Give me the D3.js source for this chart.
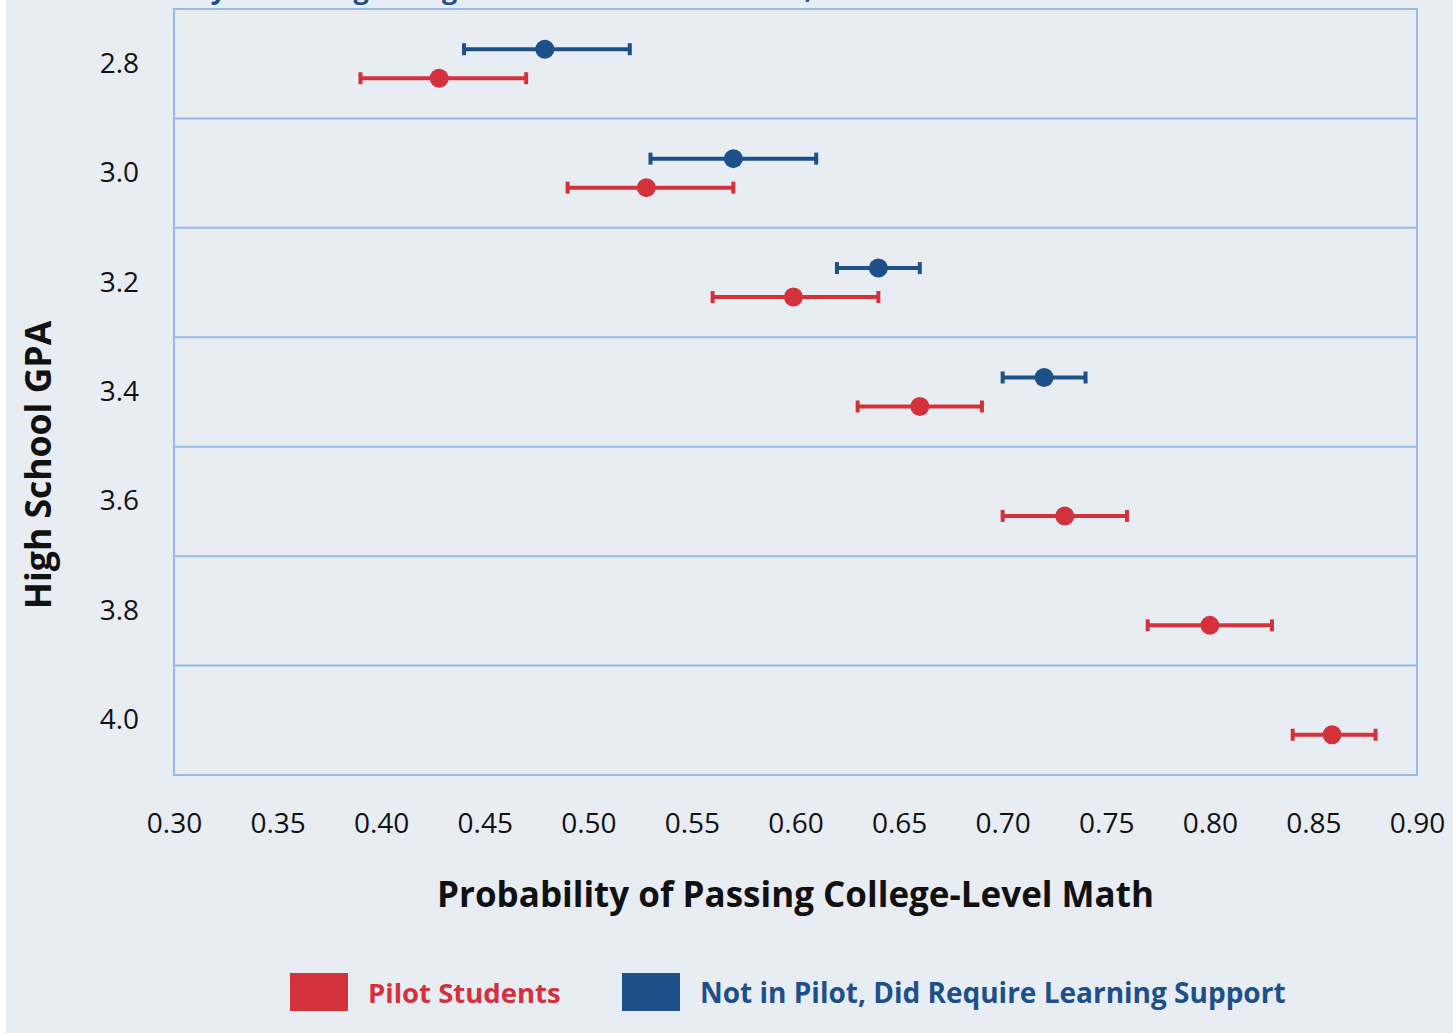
<!DOCTYPE html>
<html>
<head>
<meta charset="utf-8">
<script src="https://cdn.jsdelivr.net/npm/d3@7"></script>
<style>
  body { margin: 0; background: #fff; }
  svg { display: block; font-family: "Open Sans", "Noto Sans", sans-serif; }
</style>
</head>
<body>
<div id="chart"></div>
<script>
// GPA rows, top to bottom
var gpaLabels = ["2.8", "3.0", "3.2", "3.4", "3.6", "3.8", "4.0"];

// Pilot students: estimate with 95% interval
var pilotMean = [0.428, 0.528, 0.599, 0.660, 0.730, 0.800, 0.859];
var pilotLow  = [0.39, 0.49, 0.56, 0.63, 0.70, 0.77, 0.84];
var pilotHigh = [0.47, 0.57, 0.64, 0.69, 0.76, 0.83, 0.88];

// Not in pilot, did require learning support (only up to 3.4)
var compGpa  = ["2.8", "3.0", "3.2", "3.4"];
var compMean = [0.479, 0.570, 0.640, 0.720];
var compLow  = [0.44, 0.53, 0.62, 0.70];
var compHigh = [0.52, 0.61, 0.66, 0.74];

var xTicks = [0.30, 0.35, 0.40, 0.45, 0.50, 0.55, 0.60, 0.65, 0.70, 0.75, 0.80, 0.85, 0.90];

var seriesNames = ["Pilot Students", "Not in Pilot, Did Require Learning Support"];
var seriesColors = ["#d3313b", "#1d5089"];

var width = 1453, height = 1033;
var margin = { top: 9, right: 36, bottom: 258, left: 174 };

var svg = d3.select("#chart").append("svg")
    .attr("width", width)
    .attr("height", height);

// panel background, with thin white strip on the left
svg.append("rect")
    .attr("x", 6).attr("y", 0)
    .attr("width", width - 6).attr("height", height)
    .attr("fill", "#e8ecf3");

// title, mostly cut off above the picture (only descenders show)
svg.append("text")
    .attr("x", 78).attr("y", -1)
    .attr("font-size", 27).attr("font-weight", "bold")
    .attr("fill", "#1d5089")
    .text("Probability of Passing College-Level Math for Students, Pilot vs. Non-Pilot");

var x = d3.scaleLinear()
    .domain([0.30, 0.90])
    .range([margin.left, width - margin.right]);

var y = d3.scaleBand()
    .domain(gpaLabels)
    .range([margin.top, height - margin.bottom]);

var offset = 14.5;

// horizontal row separators
var grid = svg.append("g");
grid.selectAll("line")
    .data(gpaLabels.slice(1))
    .enter().append("line")
        .attr("x1", x.range()[0]).attr("x2", x.range()[1])
        .attr("y1", function(d) { return y(d); })
        .attr("y2", function(d) { return y(d); })
        .attr("stroke", "#93bbe6").attr("stroke-width", 2);

svg.append("rect")
    .attr("x", x.range()[0]).attr("y", y.range()[0])
    .attr("width", x.range()[1] - x.range()[0])
    .attr("height", y.range()[1] - y.range()[0])
    .attr("fill", "none")
    .attr("stroke", "#93bbe6").attr("stroke-width", 2);

// axes
var xAxis = svg.append("g")
    .attr("transform", "translate(0," + (y.range()[1] + 35) + ")")
    .call(d3.axisBottom(x).tickValues(xTicks).tickFormat(d3.format(".2f")).tickSize(0));
xAxis.select(".domain").remove();
xAxis.selectAll("text")
    .attr("font-size", 28).attr("fill", "#111")
    .attr("font-family", "\"Open Sans\", sans-serif");

var yAxis = svg.append("g")
    .attr("transform", "translate(" + (margin.left - 32) + ",0)")
    .call(d3.axisLeft(y).tickSize(0));
yAxis.select(".domain").remove();
yAxis.selectAll("text")
    .attr("font-size", 28).attr("fill", "#111")
    .attr("font-family", "\"Open Sans\", sans-serif");

// axis titles
svg.append("text")
    .attr("x", (x.range()[0] + x.range()[1]) / 2).attr("y", 907)
    .attr("text-anchor", "middle")
    .attr("font-size", 35).attr("font-weight", "bold").attr("fill", "#111")
    .text("Probability of Passing College-Level Math");

svg.append("text")
    .attr("transform", "translate(51,465) rotate(-90)")
    .attr("text-anchor", "middle")
    .attr("font-size", 35.5).attr("font-weight", "bold").attr("fill", "#111")
    .text("High School GPA");

// error bar series
function drawSeries(cats, mean, low, high, dy, color) {
    var g = svg.append("g");
    var rows = cats.map(function(c, i) {
        return { cat: c, mean: mean[i], low: low[i], high: high[i] };
    });
    var cy = function(d) { return y(d.cat) + y.bandwidth() / 2 + dy; };
    var capH = 6;

    g.selectAll(".bar").data(rows).enter().append("line")
        .attr("x1", function(d) { return x(d.low); })
        .attr("x2", function(d) { return x(d.high); })
        .attr("y1", cy).attr("y2", cy)
        .attr("stroke", color).attr("stroke-width", 4);

    g.selectAll(".capl").data(rows).enter().append("line")
        .attr("x1", function(d) { return x(d.low); })
        .attr("x2", function(d) { return x(d.low); })
        .attr("y1", function(d) { return cy(d) - capH; })
        .attr("y2", function(d) { return cy(d) + capH; })
        .attr("stroke", color).attr("stroke-width", 4);

    g.selectAll(".capr").data(rows).enter().append("line")
        .attr("x1", function(d) { return x(d.high); })
        .attr("x2", function(d) { return x(d.high); })
        .attr("y1", function(d) { return cy(d) - capH; })
        .attr("y2", function(d) { return cy(d) + capH; })
        .attr("stroke", color).attr("stroke-width", 4);

    g.selectAll("circle").data(rows).enter().append("circle")
        .attr("cx", function(d) { return x(d.mean); })
        .attr("cy", cy)
        .attr("r", 9.5)
        .attr("fill", color);
}

drawSeries(gpaLabels, pilotMean, pilotLow, pilotHigh, offset, seriesColors[0]);
drawSeries(compGpa, compMean, compLow, compHigh, -offset, seriesColors[1]);

// legend
var legendX = [290, 622];
var legendSize = [27.5, 28];
var legend = svg.append("g");
seriesNames.forEach(function(name, i) {
    legend.append("rect")
        .attr("x", legendX[i]).attr("y", 973)
        .attr("width", 58).attr("height", 38)
        .attr("fill", seriesColors[i]);
    legend.append("text")
        .attr("x", legendX[i] + 78).attr("y", 1003)
        .attr("font-size", legendSize[i]).attr("font-weight", "bold")
        .attr("fill", seriesColors[i])
        .text(name);
});
</script>
</body>
</html>
